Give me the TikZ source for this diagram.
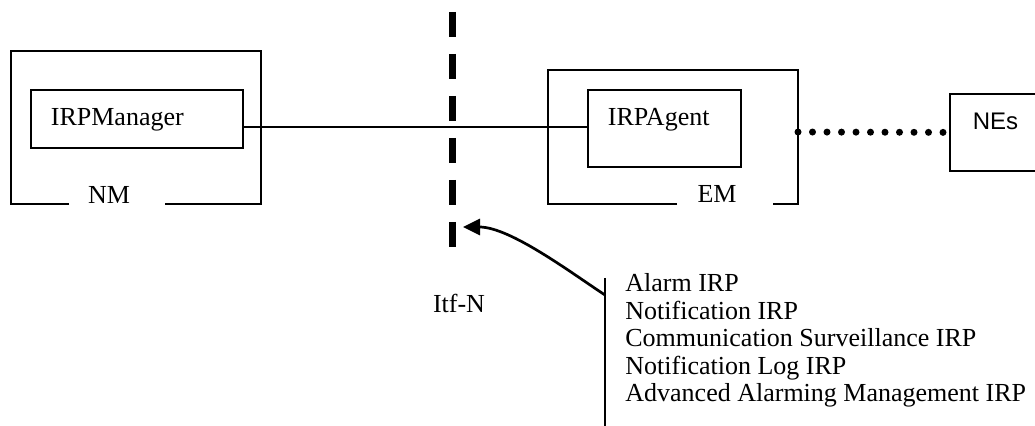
\documentclass[tikz,border=0pt]{standalone}
\usepackage{fontspec}
\setmainfont{Liberation Serif}
\newfontfamily\nesfont{Liberation Sans}
\usetikzlibrary{arrows.meta}
\begin{document}
\begin{tikzpicture}[x=0.5pt,y=-0.5pt,font=\fontsize{13}{13.75}\selectfont,
  frame/.style={line width=0.9pt},
  irpbox/.style={draw,line width=0.9pt,anchor=north west,align=left,inner xsep=10pt,inner ysep=9pt,text height=9pt},
  dots/.style={line width=3.5pt,line cap=round,dash pattern=on 0pt off 7.25pt}]
\useasboundingbox (0,0) rectangle (1035,426);
\draw[frame] (69,204)--(11,204)--(11,51)--(261,51)--(261,204)--(165,204);
\node (nm) at (109,195) {NM};
\node[irpbox,text width=86pt,text depth=2pt] (mgr) at (30,89) {IRPManager};
\draw[frame] (677,204)--(548,204)--(548,70)--(798,70)--(798,204)--(773,204);
\node (em) at (717,194) {EM};
\node[irpbox,text width=56.5pt,text depth=11.5pt] (agent) at (587,89) {IRPAgent};
\node[irpbox,font=\nesfont\fontsize{12}{14}\selectfont,inner xsep=11.5pt,text width=25pt,text height=8.6pt,text depth=11.9pt] (nes) at (949,93) {NEs};
\coordinate (link) at (0,127);
\draw[line width=0.7pt] (mgr.east |- link) -- (agent.west |- link);
\coordinate (emR) at (798,132);
\draw[dots] (emR) -- (nes.west);
\coordinate (itfT) at (452.5,12);
\coordinate (itfB) at (452.5,247);
\draw[line width=3.5pt,dash pattern=on 12.5pt off 8.5pt] (itfT) -- (itfB);
\node[anchor=base] (itf) at (459,313) {Itf-N};
\coordinate (barT) at (605,278);
\coordinate (barB) at (605,430);
\draw[line width=1pt] (barT) -- (barB);
\node[anchor=base west,align=left,inner sep=0pt] (irps) at (625,402) {Alarm IRP\\Notification IRP\\Communication Surveillance IRP\\Notification Log IRP\\Advanced Alarming Management IRP};
\coordinate (tail) at (605,295);
\coordinate (hit) at (463,227);
\draw[line width=1.35pt,-{Triangle[length=8.5pt,width=8pt]}] (tail) .. controls (570,272) and (510,227) .. (hit);
\end{tikzpicture}
\end{document}
